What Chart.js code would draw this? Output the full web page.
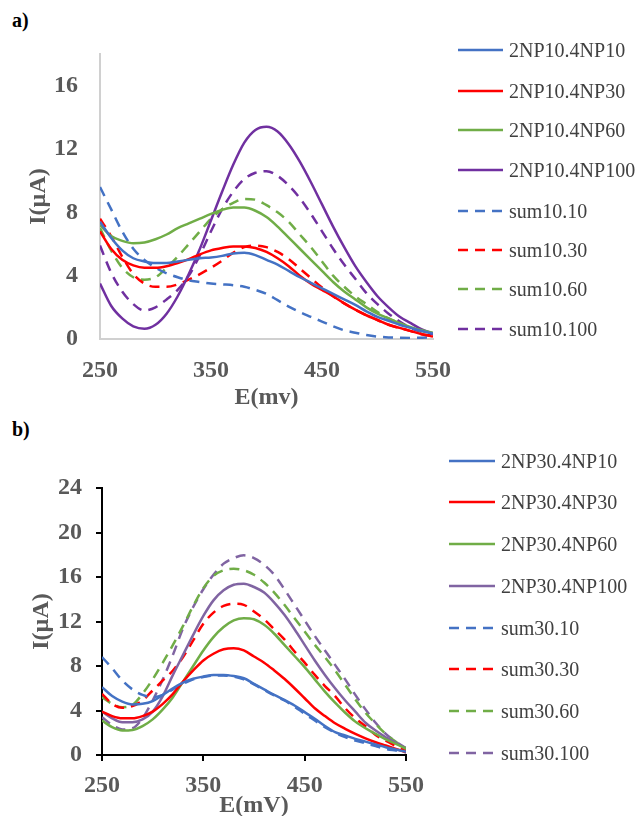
<!DOCTYPE html>
<html>
<head>
<meta charset="utf-8">
<script src="https://cdn.jsdelivr.net/npm/chart.js@4.4.1/dist/chart.umd.min.js"></script>
<style>
  body { margin: 0; background: #fff; width: 636px; height: 816px; position: relative; overflow: hidden;
         font-family: "Liberation Serif", "Times New Roman", serif; }
  .tag { position: absolute; left: 12px; font-weight: bold; font-size: 20px; color: #000; }
  canvas { position: absolute; left: 0; }
  .item { position: absolute; height: 22px; display: flex; align-items: center; white-space: nowrap;
          font-size: 20px; color: #404040; }
  .item svg { margin-right: 6px; }
</style>
</head>
<body>
<div class="tag" style="top:9px">a)</div>
<div class="tag" style="top:418px">b)</div>
<canvas id="chartA" width="460" height="412" style="top:0"></canvas>
<canvas id="chartB" width="460" height="404" style="top:416px"></canvas>
<div id="legendA"></div>
<div id="legendB"></div>
<script>
// potential (mV)
const E = [250, 260, 270, 280, 290, 300, 310, 320, 330, 340, 350, 360, 370, 380, 390, 400,
           410, 420, 430, 440, 450, 460, 470, 480, 490, 500, 510, 520, 530, 540, 550];

// panel a) current (uA)
const aNP10  = [7.4, 6.4, 5.6, 5.1, 4.9, 4.8, 4.8, 4.9, 5.0, 5.1, 5.15, 5.25, 5.4, 5.45, 5.3, 5.0, 4.7, 4.3, 3.9, 3.55, 3.2, 2.85, 2.5, 2.15, 1.75, 1.4, 1.15, 0.9, 0.7, 0.5, 0.35];
const aNP30  = [6.8, 5.7, 5.0, 4.65, 4.5, 4.5, 4.6, 4.8, 5.05, 5.35, 5.6, 5.75, 5.85, 5.85, 5.75, 5.5, 5.1, 4.6, 4.0, 3.5, 3.1, 2.7, 2.25, 1.85, 1.5, 1.2, 0.9, 0.7, 0.5, 0.3, 0.15];
const aNP60  = [7.2, 6.5, 6.2, 6.05, 6.1, 6.3, 6.6, 7.0, 7.3, 7.6, 7.9, 8.15, 8.3, 8.3, 8.1, 7.7, 7.1, 6.4, 5.7, 5.0, 4.3, 3.6, 3.0, 2.5, 2.0, 1.6, 1.3, 1.0, 0.75, 0.55, 0.4];
const aNP100 = [3.5, 2.1, 1.3, 0.8, 0.65, 0.9, 1.6, 2.7, 4.1, 5.7, 7.5, 9.3, 11.0, 12.4, 13.2, 13.4, 13.1, 12.3, 11.2, 9.9, 8.5, 7.1, 5.8, 4.6, 3.6, 2.7, 2.0, 1.4, 1.0, 0.6, 0.35];
const aSum10  = [9.6, 8.2, 6.8, 5.7, 5.0, 4.5, 4.15, 3.9, 3.7, 3.6, 3.5, 3.45, 3.4, 3.3, 3.1, 2.85, 2.45, 2.05, 1.7, 1.4, 1.1, 0.8, 0.55, 0.4, 0.25, 0.15, 0.1, 0.08, 0.07, 0.08, 0.1];
const aSum30  = [7.6, 6.5, 5.2, 4.1, 3.5, 3.3, 3.3, 3.45, 3.75, 4.1, 4.5, 4.95, 5.45, 5.8, 5.9, 5.8, 5.5, 5.05, 4.45, 3.85, 3.25, 2.7, 2.25, 1.85, 1.5, 1.2, 0.9, 0.7, 0.5, 0.3, 0.2];
const aSum60  = [7.0, 5.6, 4.5, 3.9, 3.75, 3.9, 4.5, 5.2, 6.0, 6.8, 7.6, 8.2, 8.6, 8.85, 8.8, 8.45, 8.0, 7.4, 6.6, 5.8, 4.9, 4.0, 3.3, 2.7, 2.2, 1.7, 1.3, 1.0, 0.7, 0.5, 0.35];
const aSum100 = [5.9, 4.2, 3.0, 2.2, 1.8, 2.0, 2.5, 3.1, 4.0, 5.3, 6.8, 8.2, 9.3, 10.1, 10.5, 10.6, 10.3, 9.7, 8.9, 7.9, 6.8, 5.7, 4.7, 3.8, 2.9, 2.2, 1.6, 1.1, 0.7, 0.45, 0.3];

// panel b) current (uA)
const bNP10  = [6.1, 5.3, 4.8, 4.55, 4.6, 4.85, 5.4, 6.0, 6.5, 6.85, 7.05, 7.2, 7.2, 7.1, 6.9, 6.4, 5.9, 5.4, 4.95, 4.45, 3.85, 3.25, 2.6, 2.05, 1.75, 1.45, 1.2, 0.95, 0.7, 0.5, 0.3];
const bNP30  = [3.9, 3.5, 3.3, 3.3, 3.5, 3.9, 4.6, 5.5, 6.6, 7.6, 8.5, 9.1, 9.5, 9.6, 9.4, 8.85, 8.3, 7.6, 6.85, 6.0, 5.1, 4.2, 3.5, 2.85, 2.35, 1.9, 1.5, 1.15, 0.85, 0.55, 0.25];
const bNP60  = [3.1, 2.5, 2.2, 2.25, 2.6, 3.2, 4.1, 5.2, 6.6, 8.0, 9.4, 10.6, 11.5, 12.1, 12.3, 12.2, 11.7, 10.9, 9.9, 8.9, 7.9, 6.8, 5.7, 4.7, 3.8, 3.0, 2.4, 1.9, 1.4, 1.0, 0.55];
const bNP100 = [3.9, 3.3, 2.95, 2.95, 3.2, 3.9, 5.3, 7.2, 9.0, 10.8, 12.5, 13.9, 14.8, 15.3, 15.4, 15.1, 14.6, 13.7, 12.6, 11.3, 9.9, 8.5, 7.2, 6.0, 4.9, 3.9, 2.9, 2.2, 1.6, 1.1, 0.6];
const bSum10  = [8.8, 7.8, 6.7, 5.9, 5.4, 5.2, 5.4, 5.9, 6.4, 6.8, 7.0, 7.15, 7.15, 7.05, 6.8, 6.35, 5.85, 5.35, 4.9, 4.35, 3.7, 3.1, 2.5, 2.0, 1.6, 1.3, 1.05, 0.8, 0.55, 0.4, 0.25];
const bSum30  = [5.5, 4.6, 4.25, 4.4, 4.9, 5.8, 6.7, 7.6, 8.8, 10.3, 11.8, 12.8, 13.4, 13.6, 13.5, 12.9, 12.2, 11.3, 10.4, 9.3, 8.3, 7.2, 6.2, 5.3, 4.2, 3.3, 2.6, 1.8, 1.3, 0.8, 0.4];
const bSum60  = [5.2, 4.6, 4.3, 4.5, 5.5, 6.8, 8.3, 9.9, 11.6, 13.4, 15.0, 16.1, 16.6, 16.75, 16.6, 16.2, 15.5, 14.6, 13.5, 12.3, 11.1, 9.9, 8.8, 7.6, 6.3, 5.0, 3.8, 2.8, 1.9, 1.2, 0.6];
const bSum100 = [3.4, 2.7, 2.3, 2.4, 3.3, 4.9, 6.8, 9.0, 11.4, 13.3, 14.9, 16.2, 17.2, 17.7, 17.95, 17.7, 17.1, 16.2, 14.9, 13.5, 12.1, 10.7, 9.4, 8.1, 6.8, 5.4, 4.1, 2.9, 1.9, 1.2, 0.6];

const namesA = ['2NP10.4NP10', '2NP10.4NP30', '2NP10.4NP60', '2NP10.4NP100', 'sum10.10', 'sum10.30', 'sum10.60', 'sum10.100'];
const namesB = ['2NP30.4NP10', '2NP30.4NP30', '2NP30.4NP60', '2NP30.4NP100', 'sum30.10', 'sum30.30', 'sum30.60', 'sum30.100'];
const colorsA = ['#4472C4', '#FF0000', '#70AD47', '#7030A0'];
const colorsB = ['#4472C4', '#FF0000', '#70AD47', '#8064A2'];

const xTicks = [250, 350, 450, 550];
const yTicksA = [0, 4, 8, 12, 16];
const yTicksB = [0, 4, 8, 12, 16, 20, 24];

const FONT = '"Liberation Serif", "Times New Roman", serif';
const DASH = [10, 7];

function buildDatasets(series, names, colors) {
  return series.map((vals, i) => ({
    label: names[i],
    data: vals.map((v, j) => ({ x: E[j], y: v })),
    borderColor: colors[i % 4],
    borderDash: i >= 4 ? DASH : [],
    borderWidth: 2.5,
    pointRadius: 0,
    cubicInterpolationMode: 'monotone',
    fill: false
  }));
}

function makeChart(id, series, names, colors, o) {
  const tickFont = { family: FONT, size: 24, weight: 'bold' };
  const grid = o.tickMarks
    ? { display: true, drawOnChartArea: false, drawTicks: true, tickLength: 6, color: '#000', lineWidth: 2 }
    : { display: false };
  new Chart(document.getElementById(id), {
    type: 'line',
    data: { datasets: buildDatasets(series, names, colors) },
    options: {
      responsive: false, animation: false, devicePixelRatio: 1,
      layout: { padding: { top: o.top, right: o.right, left: 0, bottom: 0 } },
      plugins: { legend: { display: false }, tooltip: { enabled: false } },
      scales: {
        x: {
          type: 'linear', min: 250, max: 550,
          afterFit: s => { s.height = o.xh; },
          afterBuildTicks: s => { s.ticks = xTicks.map(v => ({ value: v })); },
          ticks: { autoSkip: false, maxRotation: 0, color: '#595959', font: tickFont, padding: o.xpad },
          grid: grid,
          border: { display: true, color: o.axisColor, width: o.axisWidth },
          title: { display: true, text: o.xTitle, color: '#595959', font: tickFont, padding: 0 }
        },
        y: {
          min: 0, max: o.ymax,
          afterFit: s => { s.width = o.yw; },
          afterBuildTicks: s => { s.ticks = o.yTicks.map(v => ({ value: v })); },
          ticks: { autoSkip: false, color: '#595959', font: tickFont, padding: o.ypad },
          grid: grid,
          border: { display: true, color: o.axisColor, width: o.axisWidth },
          title: { display: true, text: 'I(µA)', color: '#595959', font: tickFont, padding: { top: o.ytpad, bottom: 0 } }
        }
      }
    }
  });
}

function makeLegend(id, names, colors, ys, lineX, lineW) {
  const box = document.getElementById(id);
  names.forEach((n, i) => {
    const dash = i >= 4 ? DASH.join(',') : 'none';
    const d = document.createElement('div');
    d.className = 'item';
    d.style.left = lineX + 'px';
    d.style.top = (ys[i] - 11) + 'px';
    d.innerHTML = '<svg width="' + lineW + '" height="4"><line x1="0" y1="2" x2="' + lineW + '" y2="2" stroke="' +
      colors[i % 4] + '" stroke-width="2.5" stroke-dasharray="' + dash + '"/></svg>' + n;
    box.appendChild(d);
  });
}

makeChart('chartA', [aNP10, aNP30, aNP60, aNP100, aSum10, aSum30, aSum60, aSum100], namesA, colorsA, {
  top: 54, right: 23, xh: 73, yw: 100, ymax: 18, yTicks: yTicksA, xpad: 9, ypad: 14, ytpad: 24,
  axisColor: '#d0d0d0', axisWidth: 2, tickMarks: false, xTitle: 'E(mv)'
});
makeChart('chartB', [bNP10, bNP30, bNP60, bNP100, bSum10, bSum30, bSum60, bSum100], namesB, colorsB, {
  top: 72, right: 54, xh: 65, yw: 102, ymax: 24, yTicks: yTicksB, xpad: 10, ypad: 14, ytpad: 27,
  axisColor: '#000', axisWidth: 2, tickMarks: true, xTitle: 'E(mV)'
});

makeLegend('legendA', namesA, colorsA, [50, 91, 130, 170, 211, 250, 289, 329], 458, 45);
makeLegend('legendB', namesB, colorsB, [461, 502, 544, 586, 628, 669, 711, 753], 449, 46);
</script>
</body>
</html>
